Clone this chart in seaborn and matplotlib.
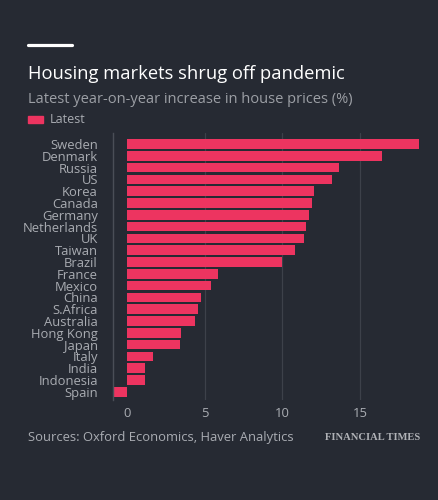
import pandas as pd
import seaborn as sns
import matplotlib.pyplot as plt
from matplotlib.lines import Line2D
from matplotlib.patches import Rectangle

countries = ["Sweden", "Denmark", "Russia", "US", "Korea", "Canada", "Germany",
             "Netherlands", "UK", "Taiwan", "Brazil", "France", "Mexico", "China",
             "S.Africa", "Australia", "Hong Kong", "Japan", "Italy", "India",
             "Indonesia", "Spain"]
latest = [18.8, 16.4, 13.65, 13.2, 12.05, 11.9, 11.7, 11.5, 11.4, 10.8, 10.0,
          5.85, 5.4, 4.75, 4.55, 4.35, 3.5, 3.43, 1.65, 1.14, 1.14, -0.9]
xticks = [0, 5, 10, 15]

df = pd.DataFrame({"Country": countries, "Latest": latest})

bg = "#262a33"
bar_col = "#ed3460"
grey = "#a9acb2"

sns.set_style("dark")
plt.rcParams["font.family"] = ["Open Sans", "DejaVu Sans"]

fig = plt.figure(figsize=(4.39, 5.0), dpi=100, facecolor=bg)
ax = fig.add_axes([0.258, 0.2, 0.699, 0.534], facecolor=bg)

sns.barplot(data=df, y="Country", x="Latest", color=bar_col, width=0.82,
            saturation=1, ax=ax, orient="h", linewidth=0, edgecolor="none")

ax.set_xlim(-0.88, 18.85)
ax.set_ylim(21.7, -0.93)
ax.set_xticks(xticks)
ax.set_xlabel("")
ax.set_ylabel("")
ax.grid(False)
for v in xticks[1:]:
    ax.axvline(v, color="#3d414a", lw=0.9, zorder=0)

for s in ["top", "right", "bottom"]:
    ax.spines[s].set_visible(False)
ax.spines["left"].set_color("#4a4e57")
ax.spines["left"].set_linewidth(1)

ax.tick_params(axis="y", colors="#5a5e66", length=8, width=1, pad=3,
               labelcolor=grey, labelsize=9.4)
ax.tick_params(axis="x", length=0, labelcolor=grey, labelsize=9.4, pad=5)

# header
fig.add_artist(Line2D([28 / 439, 72 / 439], [1 - 45 / 500, 1 - 45 / 500],
                      color="white", lw=2.3, transform=fig.transFigure))
fig.text(28 / 439, 1 - 79 / 500, "Housing markets shrug off pandemic",
         color="white", fontsize=13.2, va="baseline")
fig.text(28 / 439, 1 - 103 / 500, "Latest year-on-year increase in house prices (%)",
         color="#9c9fa5", fontsize=10.5, va="baseline")
fig.add_artist(Rectangle((28 / 439, 1 - 123 / 500), 15 / 439, 7 / 500,
                         color=bar_col, transform=fig.transFigure))
fig.text(50 / 439, 1 - 119.5 / 500, "Latest", color=grey, fontsize=9, va="center")

# footer
fig.text(28 / 439, 1 - 438 / 500, "Sources: Oxford Economics, Haver Analytics",
         color=grey, fontsize=9.4, va="center")
fig.text(420 / 439, 1 - 438 / 500, "FINANCIAL TIMES", color="#b0b2b7", fontsize=7.6,
         family="Liberation Serif", weight="bold", ha="right", va="center")

plt.savefig("out.png", dpi=100, facecolor=bg)
